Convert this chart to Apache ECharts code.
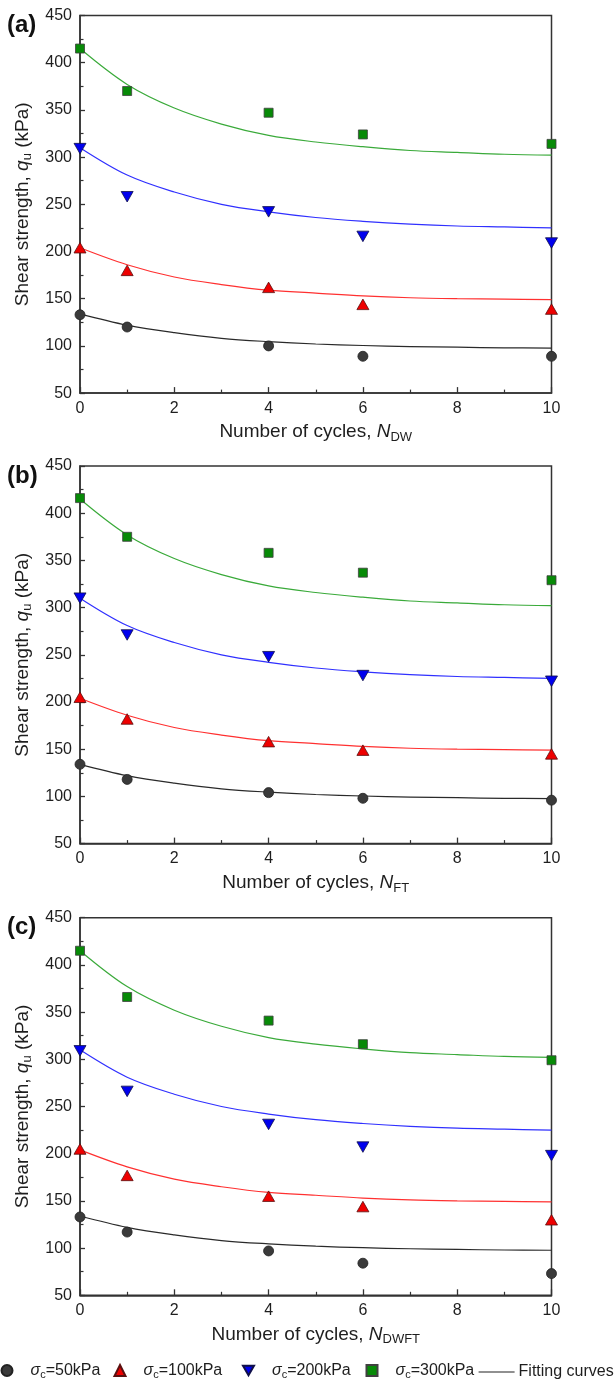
<!DOCTYPE html>
<html><head><meta charset="utf-8">
<script src="https://cdn.jsdelivr.net/npm/echarts@6/dist/echarts.min.js"></script>
<style>html,body{margin:0;padding:0;background:#fff}#c{width:616px;height:1384px}</style>
</head><body><div id="c"></div>
<script>
// ---- data ----
const cycles = [0, 1, 4, 6, 10];
const fitX = [0, 1, 2, 3, 4, 5, 6, 7, 8, 9, 10];
const panelLabels = ['(a)', '(b)', '(c)'];
const xSubscripts = ['DW', 'FT', 'DWFT'];
const yTicks = [50, 450, 50];   // min, max, step
const xTicks = [0, 10, 2];      // min, max, step
const seriesNames = ['σc=50kPa', 'σc=100kPa', 'σc=200kPa', 'σc=300kPa'];

// panel (a) drying-wetting
const a50  = [133, 120, 100, 89, 89];
const a100 = [204, 180, 162, 144, 139];
const a200 = [309, 258, 242, 216, 209];
const a300 = [415, 370, 347, 324, 314];
// panel (b) freeze-thaw
const b50  = [134, 118, 104, 98, 96];
const b100 = [205, 182, 158, 149, 145];
const b200 = [310, 271, 248, 228, 222];
const b300 = [416, 375, 358, 337, 329];
// panel (c) drying-wetting-freeze-thaw
const c50  = [133, 117, 97, 84, 73];
const c100 = [205, 177, 155, 144, 130];
const c200 = [309, 266, 231, 207, 198];
const c300 = [415, 366, 341, 316, 299];
// fitting curves (same in all three panels)
const fit50  = [134, 122, 114, 108, 104.5, 102, 100.4, 99.3, 98.6, 98, 97.7];
const fit100 = [204, 186, 173, 165, 159, 156, 153, 151, 150, 149.5, 149];
const fit200 = [310, 281, 263, 250, 242, 236, 232, 229, 227, 226, 225];
const fit300 = [415, 377, 352, 335, 323, 316, 311, 307, 305, 303, 302];

// ---- styling ----
const FONT = '"Liberation Sans", Arial, sans-serif';
const TXT = '#1e1e1e';
const AX = '#333';
const panelData = [[a50, a100, a200, a300], [b50, b100, b200, b300], [c50, c100, c200, c300]];
const fits = [fit50, fit100, fit200, fit300];
const markerColors = ['#3a3a3a', '#ee0000', '#0000ee', '#078a07'];
const markerBorders = ['#222', '#5a1010', '#10104a', '#404040'];
const lineColors = ['#2a2a2a', '#ff3030', '#3030ff', '#3aaa3a'];
const symbols = ['circle', 'triangle', 'path://M0,0 L10,0 L5,8.66 Z', 'rect'];
const symSizes = [10, [12, 10.5], [12, 10.5], 9];
const gridTops = [15.5, 466, 917.7];
const gridH = 377.6;

const grids = [], xAxes = [], yAxes = [], series = [], graphics = [];
const subRich = {
  n: { fontSize: 19, fontFamily: FONT, color: TXT, lineHeight: 24 },
  i: { fontSize: 19, fontFamily: FONT, color: TXT, fontStyle: 'italic', lineHeight: 24 },
  s: { fontSize: 13, fontFamily: FONT, color: TXT, verticalAlign: 'bottom', lineHeight: 14 }
};

for (let p = 0; p < 3; p++) {
  grids.push({ left: 80, top: gridTops[p], width: 471.5, height: gridH, show: true,
    borderColor: AX, borderWidth: 1.5, backgroundColor: 'transparent', containLabel: false, outerBoundsMode: 'none' });
  xAxes.push({
    type: 'value', gridIndex: p, min: xTicks[0], max: xTicks[1], interval: xTicks[2],
    name: '{n|Number of cycles, }{i|N}{s|' + xSubscripts[p] + '}',
    nameLocation: 'middle', nameGap: 27,
    nameTextStyle: { rich: subRich },
    axisLine: { onZero: false, lineStyle: { color: AX, width: 1.5 } },
    axisTick: { inside: true, length: 6, lineStyle: { color: AX, width: 1.3 } },
    minorTick: { show: true, splitNumber: 2, length: 3.5, lineStyle: { color: AX, width: 1.2 } },
    axisLabel: { fontSize: 16, fontFamily: FONT, color: TXT, margin: 7 },
    splitLine: { show: false }
  });
  yAxes.push({
    type: 'value', gridIndex: p, min: yTicks[0], max: yTicks[1], interval: yTicks[2],
    name: '{n|Shear strength, }{i|q}{s|u}{n| (kPa)}',
    nameLocation: 'middle', nameGap: 40, nameRotate: 90,
    nameTextStyle: { rich: subRich },
    axisLine: { onZero: false, lineStyle: { color: AX, width: 1.5 } },
    axisTick: { inside: true, length: 5, lineStyle: { color: AX, width: 1.3 } },
    minorTick: { show: true, splitNumber: 2, length: 3.5, lineStyle: { color: AX, width: 1.2 } },
    axisLabel: { fontSize: 16, fontFamily: FONT, color: TXT, margin: 8 },
    splitLine: { show: false }
  });
  for (let k = 0; k < 4; k++) {
    series.push({
      type: 'line', name: 'fit' + p + k, xAxisIndex: p, yAxisIndex: p,
      data: fitX.map((x, j) => [x, fits[k][j]]), smooth: 0.35, symbol: 'none',
      lineStyle: { color: lineColors[k], width: 1.2 }, z: 2, silent: true
    });
  }
  for (let k = 0; k < 4; k++) {
    series.push({
      type: 'scatter', name: seriesNames[k], xAxisIndex: p, yAxisIndex: p,
      data: cycles.map((x, j) => [x, panelData[p][k][j]]),
      symbol: symbols[k], symbolSize: symSizes[k],
      itemStyle: { color: markerColors[k], borderColor: markerBorders[k], borderWidth: 0.8, opacity: 1 },
      z: 5
    });
  }
  graphics.push({ type: 'text', x: 7, y: gridTops[p] + 10, style: {
    text: panelLabels[p], font: 'bold 24px ' + FONT, fill: '#111', verticalAlign: 'middle' } });
}
series.push({ type: 'line', name: 'Fitting curves', xAxisIndex: 0, yAxisIndex: 0, data: [],
  symbol: 'none', lineStyle: { color: '#222', width: 1.2 }, itemStyle: { color: '#222' } });

const legRich = {
  g: { width: 13 },
  i: { fontSize: 16, fontFamily: FONT, color: TXT, fontStyle: 'italic', lineHeight: 20 },
  s: { fontSize: 11, fontFamily: FONT, color: TXT, verticalAlign: 'bottom', lineHeight: 11 },
  n: { fontSize: 16, fontFamily: FONT, color: TXT, lineHeight: 20 }
};
const legLefts = [0.5, 113.5, 242, 365.5];
const legends = seriesNames.map((nm, k) => ({
  left: legLefts[k], top: 1362.5, orient: 'horizontal', padding: 0,
  itemWidth: 11, itemHeight: 11, itemGap: 0, selectedMode: false,
  data: [nm],
  formatter: (name) => '{g|}{i|σ}{s|c}{n|' + name.replace('σc', '') + '}',
  textStyle: { rich: legRich }
}));
legends.push({ left: 478.6, top: 1364, padding: 0, itemWidth: 36, itemHeight: 1.2, selectedMode: false,
  icon: 'rect', data: ['Fitting curves'], itemGap: 0,
  textStyle: { fontSize: 16, fontFamily: FONT, color: TXT, padding: [0, 0, 0, -1] } });

const chart = echarts.init(document.getElementById('c'), null, { renderer: 'canvas' });
chart.setOption({
  animation: false,
  backgroundColor: '#fff',
  grid: grids, xAxis: xAxes, yAxis: yAxes, series: series,
  legend: legends, graphic: graphics
});
</script></body></html>
